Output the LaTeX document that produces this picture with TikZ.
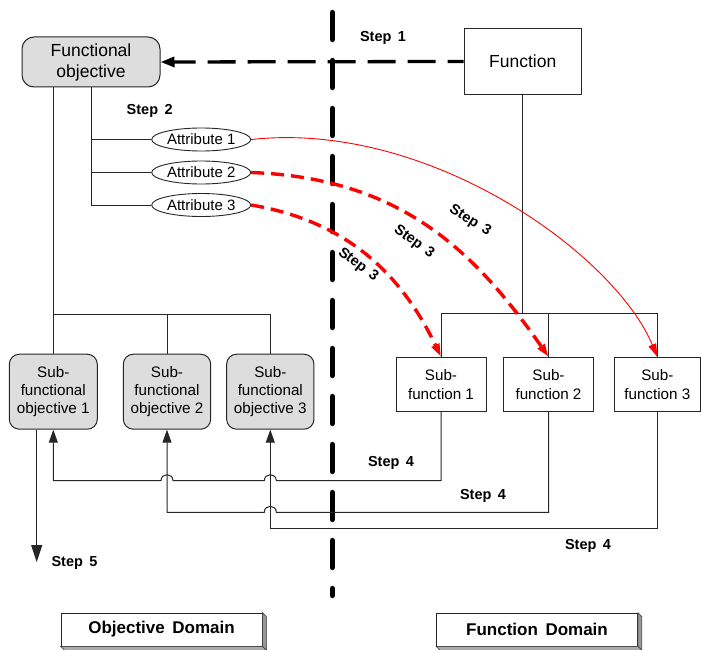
\documentclass[tikz,border=0pt]{standalone}
\usepackage{fontspec}
\setmainfont{Liberation Sans}
\newfontfamily\labelfont[WordSpace=1.6]{Liberation Sans}
\usetikzlibrary{arrows.meta,shapes.geometric}
\definecolor{boxgray}{RGB}{221,221,221}
\definecolor{sidegray}{RGB}{150,150,150}

\begin{document}
\begin{tikzpicture}[x=1pt,y=-1pt,
  conn/.style={draw=black!85, line width=1pt},
  objbox/.style={draw=black!85, line width=1pt, fill=boxgray, align=center, inner sep=0pt},
  fnbox/.style={draw=black!85, line width=1pt, fill=white, align=center, inner sep=0pt},
  attr/.style={ellipse, draw=black!85, line width=0.9pt, fill=white, minimum width=99pt,
    minimum height=23pt, inner sep=0pt, font=\fontsize{15}{18}\selectfont},
  steplabel/.style={font=\labelfont\bfseries\fontsize{14.5}{17}\selectfont, inner sep=0pt},
  domainbox/.style={draw=black!85, line width=0.8pt, fill=white, minimum width=201pt,
    minimum height=33pt, inner sep=0pt, font=\labelfont\bfseries\fontsize{17}{20}\selectfont},
  bigtext/.style={font=\fontsize{17.5}{21}\selectfont},
  midtext/.style={font=\fontsize{15.2}{18.3}\selectfont},
  reddash/.style={draw=red, line width=3.4pt, dash pattern=on 13pt off 7pt},
  redthin/.style={draw=red, line width=0.9pt},
  redtip/.style={-{Triangle[length=13pt,width=8pt]}},
  uptip/.style={-{Triangle[length=13pt,width=9pt]}},
]
\useasboundingbox (0,0) rectangle (701,650);

% bus levels of the two trees and the step 4 return lines
\coordinate (lbus) at (0,314);
\coordinate (rbus) at (0,313.3);
\coordinate (ret1) at (0,480.7);
\coordinate (ret2) at (0,512.3);
\coordinate (ret3) at (0,528.5);

% objective side
\node[objbox, bigtext, rounded corners=12pt, minimum width=138pt, minimum height=50pt]
  (fo) at (91,62) {Functional\\objective};
\node[attr] (a1) at (201.2,139.5) {Attribute 1};
\node[attr] (a2) at (201.2,172.5) {Attribute 2};
\node[attr] (a3) at (201.2,205) {Attribute 3};

\node[objbox, midtext, rounded corners=10pt, minimum width=88pt, minimum height=75pt]
  (sob1) at (53.3,391.7) {Sub-\\functional\\objective 1};
\node[objbox, midtext, rounded corners=10pt, minimum width=87.4pt, minimum height=75pt]
  (sob2) at (167,391.7) {Sub-\\functional\\objective 2};
\node[objbox, midtext, rounded corners=10pt, minimum width=87.3pt, minimum height=75pt]
  (sob3) at (270.3,391.7) {Sub-\\functional\\objective 3};

% function side
\node[fnbox, bigtext, minimum width=117pt, minimum height=66.5pt]
  (fn) at (522.7,61.5) {Function};
\node[fnbox, midtext, minimum width=90pt, minimum height=54.4pt]
  (sf1) at (441,384.5) {Sub-\\function 1};
\node[fnbox, midtext, minimum width=89.6pt, minimum height=54.4pt]
  (sf2) at (548.5,384.5) {Sub-\\function 2};
\node[fnbox, midtext, minimum width=86pt, minimum height=54.4pt]
  (sf3) at (657.3,384.5) {Sub-\\function 3};

% domain divider
\coordinate (dtop) at (332.3,12.5);
\coordinate (dbot) at (332.3,595.5);
\draw[line width=5.3pt, line cap=round, dash pattern=on 27pt off 21pt] (dtop) -- (dbot);

% step 1
\draw[line width=3.3pt, dash pattern=on 28pt off 12pt, dash phase=12pt,
  -{Triangle[length=14pt,width=10pt]}] (fn.west) -- (fo.east);
\node[steplabel] (s1) at (383,38) {Step 1};

% step 2: attributes of the functional objective
\draw[conn] (fo.south) -- (fo.south |- a3.west) -- (a3.west);
\draw[conn] (fo.south |- a1.west) -- (a1.west);
\draw[conn] (fo.south |- a2.west) -- (a2.west);
\node[steplabel] (s2) at (149.7,111) {Step 2};

% decomposition trees
\draw[conn] (fo.south -| sob1.north) -- (sob1.north);
\draw[conn] (sob1.north |- lbus) -| (sob3.north);
\draw[conn] (sob2.north |- lbus) -- (sob2.north);
\draw[conn] (fn.south) -- (fn.south |- rbus);
\draw[conn] (sf1.north) |- (sf3.north |- rbus) -- (sf3.north);
\draw[conn] (sf2.north) -- (sf2.north |- rbus);

% step 3: attributes mapped to sub-functions
\draw[redthin, redtip] (a1.east) .. controls (430,120) and (615,255) .. (sf3.north);
\draw[reddash, redtip] (a2.east) .. controls (400,178) and (474,250) .. (sf2.north);
\draw[reddash, redtip] (a3.east) .. controls (340,220) and (398,267) .. (sf1.north);
\node[steplabel, rotate=-37] (s3a) at (358,265) {Step 3};
\node[steplabel, rotate=-36] (s3b) at (414,242) {Step 3};
\node[steplabel, rotate=-32] (s3c) at (470,221) {Step 3};

% step 4: sub-functions fed back to sub-functional objectives (with line hops)
\draw[conn, uptip] (sf1.south) -- (sf1.south |- ret1)
  -- ([xshift=6pt]sob3.south |- ret1) .. controls +(0,-8) and +(0,-8) .. ([xshift=-6pt]sob3.south |- ret1)
  -- ([xshift=6pt]sob2.south |- ret1) .. controls +(0,-8) and +(0,-8) .. ([xshift=-6pt]sob2.south |- ret1)
  -- (sob1.south |- ret1) -- (sob1.south);
\draw[conn, uptip] (sf2.south) -- (sf2.south |- ret2)
  -- ([xshift=6pt]sob3.south |- ret2) .. controls +(0,-8) and +(0,-8) .. ([xshift=-6pt]sob3.south |- ret2)
  -- (sob2.south |- ret2) -- (sob2.south);
\draw[conn, uptip] (sf3.south) -- (sf3.south |- ret3) -- (sob3.south |- ret3) -- (sob3.south);
\node[steplabel] (s4a) at (391,463) {Step 4};
\node[steplabel] (s4b) at (483,496) {Step 4};
\node[steplabel] (s4c) at (588,546) {Step 4};

% step 5
\coordinate (s5end) at (36.7,562);
\draw[conn, -{Triangle[length=17pt,width=11pt]}] (sob1.south -| s5end) -- (s5end);
\node[steplabel] (s5) at (74.5,563) {Step 5};

% domain captions as raised boxes
\foreach \n/\cx/\txt in {od/161.5/Objective Domain, fd/537/Function Domain}{
  \node[domainbox] (\n) at (\cx,629.5) {\txt};
  \filldraw[fill=sidegray, draw=black!80, line width=0.6pt]
    (\n.north east) -- ([shift={(4,4)}]\n.north east) -- ([shift={(4,4)}]\n.south east) -- (\n.south east) -- cycle;
  \filldraw[fill=sidegray!80, draw=black!80, line width=0.6pt]
    (\n.south west) -- (\n.south east) -- ([shift={(4,4)}]\n.south east) -- ([shift={(4,4)}]\n.south west) -- cycle;
}
\end{tikzpicture}
\end{document}
